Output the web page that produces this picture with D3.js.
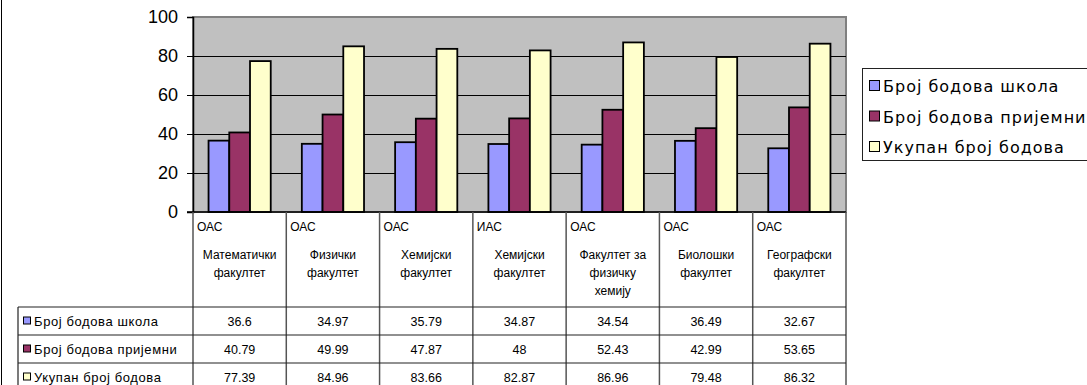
<!DOCTYPE html>
<html>
<head>
<meta charset="utf-8">
<script src="https://cdn.jsdelivr.net/npm/d3@7"></script>
<style>
  body { margin: 0; background: #fff; overflow: hidden; }
  svg { display: block; }
</style>
</head>
<body>
<div id="chart"></div>
<script>
// data
const programs = ["ОАС", "ОАС", "ОАС", "ИАС", "ОАС", "ОАС", "ОАС"];
const faculties = [
	["Математички", "факултет"],
	["Физички", "факултет"],
	["Хемијски", "факултет"],
	["Хемијски", "факултет"],
	["Факултет за", "физичку", "хемију"],
	["Биолошки", "факултет"],
	["Географски", "факултет"]
];
const seriesNames = ["Број бодова школа", "Број бодова пријемни", "Укупан број бодова"];
const schoolPts = [36.6, 34.97, 35.79, 34.87, 34.54, 36.49, 32.67];
const examPts = [40.79, 49.99, 47.87, 48, 52.43, 42.99, 53.65];
const totalPts = [77.39, 84.96, 83.66, 82.87, 86.96, 79.48, 86.32];
const seriesColors = ["#9999FF", "#993366", "#FFFFCC"];
const yTicks = [0, 20, 40, 60, 80, 100];

const series = [schoolPts, examPts, totalPts];

var W = 1087, H = 385;
var plotLeft = 193, plotRight = 846, plotTop = 17, plotBottom = 212;
var tableLeft = 18;
var headBottom = 307, rowH = 28;

var svg = d3.select("#chart").append("svg")
	.attr("width", W)
	.attr("height", H);

var x = d3.scaleBand()
	.domain(d3.range(programs.length))
	.range([plotLeft, plotRight])
	.paddingInner(0)
	.paddingOuter(0);

var xs = d3.scaleBand()
	.domain(d3.range(series.length))
	.range([0, x.bandwidth()])
	.paddingInner(0)
	.paddingOuter(0.75);

var y = d3.scaleLinear()
	.domain([0, 100])
	.range([plotBottom, plotTop]);

// chart area edge on the left
svg.append("line")
	.attr("x1", 1.5).attr("x2", 1.5)
	.attr("y1", 0).attr("y2", H)
	.attr("stroke", "#000");

// plot background
svg.append("rect")
	.attr("x", plotLeft).attr("y", plotTop)
	.attr("width", plotRight - plotLeft)
	.attr("height", plotBottom - plotTop)
	.attr("fill", "#C0C0C0")
	.attr("stroke", "#808080")
	.attr("stroke-width", 2);

// gridlines
svg.append("g").selectAll("line")
	.data(yTicks.filter(function(d) { return d > 0 && d < 100; }))
	.enter().append("line")
	.attr("x1", plotLeft).attr("x2", plotRight)
	.attr("y1", function(d) { return Math.round(y(d)) + 0.5; })
	.attr("y2", function(d) { return Math.round(y(d)) + 0.5; })
	.attr("stroke", "#000")
	.attr("stroke-width", 1);

// bars
var groups = svg.append("g").selectAll("g")
	.data(programs)
	.enter().append("g")
	.attr("transform", function(d, i) { return "translate(" + x(i) + ",0)"; });

groups.selectAll("rect")
	.data(function(d, i) { return series.map(function(s, k) { return { k: k, v: s[i] }; }); })
	.enter().append("rect")
	.attr("x", function(d) { return xs(d.k); })
	.attr("y", function(d) { return y(d.v); })
	.attr("width", xs.bandwidth())
	.attr("height", function(d) { return y(0) - y(d.v); })
	.attr("fill", function(d) { return seriesColors[d.k]; })
	.attr("stroke", "#000")
	.attr("stroke-width", 1.8);

// y axis
var yAxis = svg.append("g")
	.attr("transform", "translate(" + plotLeft + ",0)")
	.call(d3.axisLeft(y).tickValues(yTicks).tickSize(6).tickPadding(9));
yAxis.select(".domain").attr("stroke", "#000").attr("stroke-width", 1.5);
yAxis.selectAll(".tick line").attr("stroke", "#000");
yAxis.selectAll("text")
	.attr("font-family", "Liberation Sans, Arial, sans-serif")
	.attr("font-size", 18)
	.attr("fill", "#000");

// axis baseline
svg.append("line")
	.attr("x1", plotLeft - 6).attr("x2", plotRight)
	.attr("y1", plotBottom).attr("y2", plotBottom)
	.attr("stroke", "#000").attr("stroke-width", 1.5);

/***** data table *****/
var tableBottom = headBottom + rowH * series.length;

// column dividers
svg.append("g").selectAll("line")
	.data(d3.range(programs.length + 1))
	.enter().append("line")
	.attr("x1", function(i) { return i < programs.length ? x(i) : plotRight; })
	.attr("x2", function(i) { return i < programs.length ? x(i) : plotRight; })
	.attr("y1", plotBottom)
	.attr("y2", tableBottom)
	.attr("stroke", "#555")
	.attr("stroke-width", 1.5);

// row lines
svg.append("g").selectAll("line")
	.data(d3.range(series.length + 1))
	.enter().append("line")
	.attr("x1", tableLeft).attr("x2", plotRight)
	.attr("y1", function(r) { return headBottom + r * rowH; })
	.attr("y2", function(r) { return headBottom + r * rowH; })
	.attr("stroke", "#222")
	.attr("stroke-width", 1.2);

svg.append("line")
	.attr("x1", tableLeft).attr("x2", tableLeft)
	.attr("y1", headBottom).attr("y2", tableBottom)
	.attr("stroke", "#222").attr("stroke-width", 1.2);

// header: program and faculty names
var head = svg.append("g")
	.attr("font-family", "Liberation Sans, Arial, sans-serif")
	.attr("font-size", 12)
	.attr("fill", "#000");

head.selectAll(".prog")
	.data(programs)
	.enter().append("text")
	.attr("class", "prog")
	.attr("x", function(d, i) { return x(i) + 4; })
	.attr("y", 231)
	.text(function(d) { return d; });

head.selectAll(".fac")
	.data(faculties)
	.enter().append("text")
	.attr("class", "fac")
	.attr("text-anchor", "middle")
	.each(function(lines, i) {
		var t = d3.select(this);
		lines.forEach(function(l, j) {
			t.append("tspan")
				.attr("x", x(i) + x.bandwidth() / 2)
				.attr("y", 259 + j * 18)
				.text(l);
		});
	});

// legend keys in the table
var keys = svg.append("g")
	.attr("font-family", "Liberation Sans, Arial, sans-serif")
	.attr("font-size", 13)
	.attr("letter-spacing", 0.6);

keys.selectAll("rect")
	.data(seriesNames)
	.enter().append("rect")
	.attr("x", 23.5)
	.attr("y", function(d, r) { return headBottom + r * rowH + rowH / 2 - 4; })
	.attr("width", 7).attr("height", 7)
	.attr("fill", function(d, r) { return seriesColors[r]; })
	.attr("stroke", "#000");

keys.selectAll("text")
	.data(seriesNames)
	.enter().append("text")
	.attr("x", 34)
	.attr("y", function(d, r) { return headBottom + r * rowH + rowH / 2 + 4.5; })
	.text(function(d) { return d; });

// values
var vals = svg.append("g")
	.attr("font-family", "Liberation Sans, Arial, sans-serif")
	.attr("font-size", 12.5)
	.attr("text-anchor", "middle");

series.forEach(function(s, r) {
	vals.selectAll(".v" + r)
		.data(s)
		.enter().append("text")
		.attr("class", "v" + r)
		.attr("x", function(d, i) { return x(i) + x.bandwidth() / 2; })
		.attr("y", headBottom + r * rowH + rowH / 2 + 4.5)
		.text(function(d) { return d; });
});

/***** legend *****/
var legend = svg.append("g");
legend.append("rect")
	.attr("x", 862.5).attr("y", 68.5)
	.attr("width", 260).attr("height", 92)
	.attr("fill", "#fff")
	.attr("stroke", "#222");

var li = legend.selectAll("g")
	.data(seriesNames)
	.enter().append("g")
	.attr("transform", function(d, i) { return "translate(0," + (86 + i * 30.5) + ")"; });

li.append("rect")
	.attr("x", 869.5).attr("y", -5.5)
	.attr("width", 10).attr("height", 10)
	.attr("fill", function(d, i) { return seriesColors[i]; })
	.attr("stroke", "#000");

li.append("text")
	.attr("x", 883)
	.attr("y", 6)
	.attr("font-family", "DejaVu Sans, Verdana, sans-serif")
	.attr("font-size", 16)
	.attr("letter-spacing", 1)
	.text(function(d) { return d; });
</script>
</body>
</html>
